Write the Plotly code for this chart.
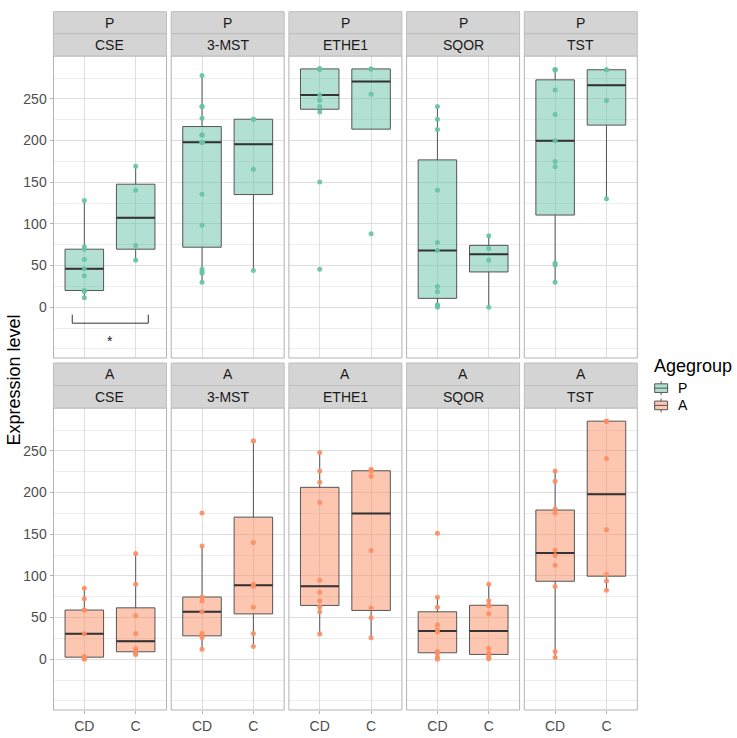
import numpy as np
import plotly.graph_objects as go

# ---------------- data ----------------
genes = ["CSE", "3-MST", "ETHE1", "SQOR", "TST"]
groups = ["CD", "C"]
agegroups = ["P", "A"]
y_ticks = [0, 50, 100, 150, 200, 250]

P_CSE_CD = [128, 72.4, 69.6, 57.2, 46, 37.6, 20, 18.8, 11.2]
P_CSE_C = [169.2, 140.4, 74, 56.4]
P_3MST_CD = [278, 240.8, 240.8, 226.8, 206.8, 206.8, 198, 198, 198, 135.6, 98.4, 45.6, 42.8, 40.8, 30]
P_3MST_C = [225.6, 225.6, 165.6, 44]
P_ETHE1_CD = [286, 286, 286, 286, 286, 254.8, 248.4, 240.8, 234.4, 150.4, 45.6]
P_ETHE1_C = [286, 286, 255.6, 88]
P_SQOR_CD = [240.8, 225.6, 213.2, 140.4, 77.6, 68, 24.8, 18.4, 2.8, 1.6, 0]
P_SQOR_C = [85.6, 70.4, 56.4, 0]
P_TST_CD = [285, 285, 285, 260.8, 231.2, 199.7, 174.9, 168.5, 52.7, 50.7, 30]
P_TST_C = [285, 285, 248, 130.2]

A_CSE_CD = [85, 72.6, 59, 59, 30.5, 3.2, 2.4, 1.2, 0]
A_CSE_C = [126.8, 89.9, 52.2, 30.9, 12.4, 9.5, 7.2, 5.6]
A_3MST_CD = [175.4, 136, 74.6, 70.2, 57, 30.9, 28, 26.1, 12]
A_3MST_C = [262, 262, 140, 89.9, 87.5, 62.2, 30.9, 15.2]
A_ETHE1_CD = [248, 225.9, 212.3, 188.2, 94.7, 80.3, 70.2, 62.6, 57, 30.1]
A_ETHE1_C = [228, 226.7, 226, 219.5, 130.4, 61.4, 49.8, 25.7]
A_SQOR_CD = [151.3, 74.2, 62.2, 40.9, 35.3, 32.5, 9.2, 7.2, 2.4, 0]
A_SQOR_C = [89.9, 70.2, 65, 63.8, 54.6, 12.8, 7.2, 5.2, 2, 0.4]
A_TST_CD = [225.9, 213.5, 180.2, 175.4, 130.8, 124.4, 112.8, 87.1, 9.2, 2]
A_TST_C = [285.7, 285.7, 285.7, 240.8, 155.3, 101.5, 93.9, 82.7]

table = {
    ("P", "CSE"): (P_CSE_CD, P_CSE_C),
    ("P", "3-MST"): (P_3MST_CD, P_3MST_C),
    ("P", "ETHE1"): (P_ETHE1_CD, P_ETHE1_C),
    ("P", "SQOR"): (P_SQOR_CD, P_SQOR_C),
    ("P", "TST"): (P_TST_CD, P_TST_C),
    ("A", "CSE"): (A_CSE_CD, A_CSE_C),
    ("A", "3-MST"): (A_3MST_CD, A_3MST_C),
    ("A", "ETHE1"): (A_ETHE1_CD, A_ETHE1_C),
    ("A", "SQOR"): (A_SQOR_CD, A_SQOR_C),
    ("A", "TST"): (A_TST_CD, A_TST_C),
}

# ---------------- style ----------------
W, H = 737, 738
FONT = "Liberation Sans, Arial, sans-serif"
COL = {"P": "#66C2A5", "A": "#FC8D62"}
FILL = {"P": "rgba(102,194,165,0.5)", "A": "rgba(252,141,98,0.5)"}
PANEL_LEFT = [53.5, 171.2, 288.9, 406.6, 524.3]
PANEL_W = 113
ROW_BODY = [(56, 358), (408, 710)]
ROW_STRIP = [(11.7, 33.7, 56), (363, 385.5, 408)]
YR = [-61, 301.5]
XR = [0.4, 2.6]
BOXW = 0.75
TXT = 14


def fx(p):
    return p / W


def fy(p):
    return 1 - p / H


def box_stats(vals):
    v = np.sort(np.asarray(vals, dtype=float))
    q1, med, q3 = np.percentile(v, [25, 50, 75])
    iqr = q3 - q1
    lo = v[v >= q1 - 1.5 * iqr].min()
    hi = v[v <= q3 + 1.5 * iqr].max()
    return q1, med, q3, lo, hi


fig = go.Figure()
shapes = []
annotations = []
minor_vals = [-50, -25, 25, 75, 125, 175, 225, 275]

for r, age in enumerate(agegroups):
    for c, gene in enumerate(genes):
        i = r * 5 + c + 1
        xa = "x" if i == 1 else f"x{i}"
        ya = "y" if i == 1 else f"y{i}"
        xkey = "xaxis" if i == 1 else f"xaxis{i}"
        ykey = "yaxis" if i == 1 else f"yaxis{i}"
        x0 = PANEL_LEFT[c]
        x1 = x0 + PANEL_W
        top, bot = ROW_BODY[r]
        fig.layout[xkey] = dict(
            domain=[fx(x0), fx(x1)], range=XR, anchor=ya,
            tickvals=[1, 2], ticktext=groups,
            showticklabels=(r == 1), ticks="outside" if r == 1 else "",
            ticklen=3, tickcolor="#B3B3B3",
            tickfont=dict(family=FONT, size=TXT, color="#4D4D4D"),
            showgrid=True, gridcolor="#DEDEDE", gridwidth=1,
            zeroline=False, showline=False, fixedrange=True,
        )
        fig.layout[ykey] = dict(
            domain=[fy(bot), fy(top)], range=YR, anchor=xa,
            tickvals=y_ticks,
            showticklabels=(c == 0), ticks="outside" if c == 0 else "",
            ticklen=3, tickcolor="#B3B3B3",
            tickfont=dict(family=FONT, size=TXT, color="#4D4D4D"),
            showgrid=True, gridcolor="#DEDEDE", gridwidth=1,
            minor=dict(tickmode="array", tickvals=minor_vals, showgrid=True,
                       gridcolor="#EDEDED", gridwidth=1, ticks=""),
            zeroline=False, showline=False, fixedrange=True,
        )
        # panel border
        shapes.append(dict(type="rect", xref="paper", yref="paper",
                           x0=fx(x0), x1=fx(x1), y0=fy(bot), y1=fy(top),
                           line=dict(color="#B3B3B3", width=1), layer="above"))
        # strips
        s0, s1, s2 = ROW_STRIP[r]
        for (a, b, txt) in [(s0, s1, age), (s1, s2, gene)]:
            shapes.append(dict(type="rect", xref="paper", yref="paper",
                               x0=fx(x0), x1=fx(x1), y0=fy(b), y1=fy(a),
                               fillcolor="#D4D4D4",
                               line=dict(color="#BDBDBD", width=1), layer="above"))
            annotations.append(dict(x=fx((x0 + x1) / 2), y=fy((a + b) / 2),
                                    xref="paper", yref="paper", text=txt,
                                    showarrow=False, xanchor="center", yanchor="middle",
                                    font=dict(family=FONT, size=TXT, color="#1A1A1A")))

        for g, vals in enumerate(table[(age, gene)]):
            pos = g + 1
            q1, med, q3, lo, hi = box_stats(vals)
            fig.add_trace(go.Box(
                x=[pos], q1=[q1], median=[med], q3=[q3],
                lowerfence=[lo], upperfence=[hi], width=BOXW,
                fillcolor=FILL[age], line=dict(color="#555555", width=1),
                whiskerwidth=0, boxpoints=False, showlegend=False,
                hoverinfo="skip", xaxis=xa, yaxis=ya))
            fig.add_trace(go.Scatter(
                x=[pos - BOXW / 2, pos + BOXW / 2], y=[med, med], mode="lines",
                line=dict(color="#333333", width=2), showlegend=False,
                hoverinfo="skip", xaxis=xa, yaxis=ya))
            fig.add_trace(go.Scatter(
                x=[pos] * len(vals), y=vals, mode="markers",
                marker=dict(size=5, color=COL[age], opacity=0.9, line=dict(width=0)),
                showlegend=False, hoverinfo="skip", xaxis=xa, yaxis=ya))

# significance bracket in P / CSE
shapes.append(dict(type="path", xref="x", yref="y",
                   path="M 0.765,-9 L 0.765,-19.2 L 2.245,-19.2 L 2.245,-9",
                   line=dict(color="#333333", width=1)))
annotations.append(dict(x=1.5, y=-41, xref="x", yref="y", text="*", showarrow=False,
                        xanchor="center", yanchor="middle",
                        font=dict(family=FONT, size=14, color="#1A1A1A")))

# y-axis title
annotations.append(dict(x=fx(13.5), y=fy(380), xref="paper", yref="paper",
                        text="Expression level", textangle=-90, showarrow=False,
                        xanchor="center", yanchor="middle",
                        font=dict(family=FONT, size=18, color="#000000")))

# legend
annotations.append(dict(x=fx(652), y=fy(366), xref="paper", yref="paper",
                        text="Agegroup", showarrow=False, xanchor="left", yanchor="middle",
                        font=dict(family=FONT, size=18, color="#000000")))
K = 17.28
kx0 = 652.5
for j, age in enumerate(agegroups):
    kt = 379.5 + j * K
    cx = kx0 + K / 2
    shapes.append(dict(type="line", xref="paper", yref="paper",
                       x0=fx(cx), x1=fx(cx), y0=fy(kt + 0.1 * K), y1=fy(kt + 0.25 * K),
                       line=dict(color="#555555", width=1)))
    shapes.append(dict(type="line", xref="paper", yref="paper",
                       x0=fx(cx), x1=fx(cx), y0=fy(kt + 0.75 * K), y1=fy(kt + 0.9 * K),
                       line=dict(color="#555555", width=1)))
    shapes.append(dict(type="rect", xref="paper", yref="paper",
                       x0=fx(kx0 + 0.125 * K), x1=fx(kx0 + 0.875 * K),
                       y0=fy(kt + 0.75 * K), y1=fy(kt + 0.25 * K),
                       fillcolor=FILL[age], line=dict(color="#555555", width=1)))
    shapes.append(dict(type="line", xref="paper", yref="paper",
                       x0=fx(kx0 + 0.125 * K), x1=fx(kx0 + 0.875 * K),
                       y0=fy(kt + 0.5 * K), y1=fy(kt + 0.5 * K),
                       line=dict(color="#555555", width=1)))
    annotations.append(dict(x=fx(676), y=fy(kt + K / 2), xref="paper", yref="paper",
                            text=age, showarrow=False, xanchor="left", yanchor="middle",
                            font=dict(family=FONT, size=TXT, color="#000000")))

fig.update_layout(
    width=W, height=H, autosize=False,
    margin=dict(l=0, r=0, t=0, b=0),
    paper_bgcolor="white", plot_bgcolor="white",
    shapes=shapes, annotations=annotations,
    showlegend=False, font=dict(family=FONT),
)

fig.write_html(
    "out.html",
    config={"displayModeBar": False, "staticPlot": True},
    post_script="document.body.style.margin='0';document.body.style.padding='0';"
                "document.body.style.overflow='hidden';",
)
